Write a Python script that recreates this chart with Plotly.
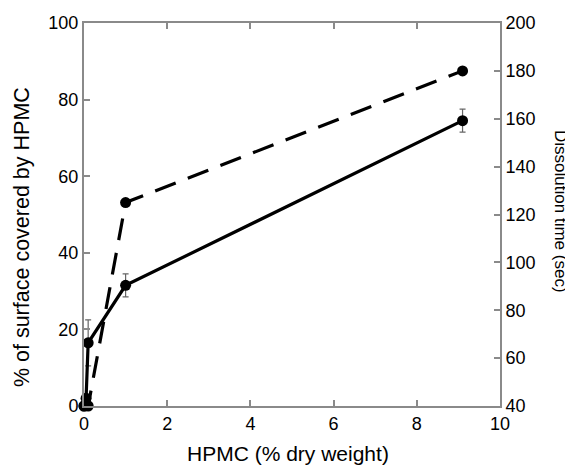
import plotly.graph_objects as go

# Data
hpmc = [0, 0.05, 0.1, 1.0, 9.1]
surface_cov = [0, 2, 16.5, 31.5, 74.5]
surface_err = [0, 0, 6, 3, 3]
dissolution = [40, 41, 40, 125, 180]

left_ticks = [0, 20, 40, 60, 80, 100]
right_ticks = [40, 60, 80, 100, 120, 140, 160, 180, 200]
x_ticks = [0, 2, 4, 6, 8, 10]

FONT = "Liberation Sans, Arial, Helvetica, sans-serif"
AX = "#8a8a8a"

fig = go.Figure()
fig.add_trace(go.Scatter(
    x=hpmc, y=dissolution, yaxis="y2", mode="lines+markers",
    line=dict(color="black", width=3.2, dash="22px,13px"),
    marker=dict(color="black", size=11),
    showlegend=False, cliponaxis=False))
fig.add_trace(go.Scatter(
    x=hpmc, y=surface_cov, mode="lines+markers",
    line=dict(color="black", width=3.2),
    marker=dict(color="black", size=11),
    error_y=dict(type="data", array=surface_err, color="#666666",
                 thickness=1.2, width=3),
    showlegend=False, cliponaxis=False))

common = dict(ticks="inside", ticklen=6, tickcolor=AX, tickwidth=1.5,
              showline=True, linecolor=AX, linewidth=2, showgrid=False,
              zeroline=False, automargin=False,
              tickfont=dict(size=18, family=FONT, color="black"))

fig.update_layout(
    width=565, height=458,
    margin=dict(l=76, r=73, t=15, b=60),
    paper_bgcolor="white", plot_bgcolor="white",
    font=dict(family=FONT, size=16, color="black"),
    xaxis=dict(range=[0, 10], tickvals=x_ticks, mirror="ticks", **common),
    yaxis=dict(range=[0, 100], tickvals=left_ticks, **common),
    yaxis2=dict(range=[40, 200], tickvals=right_ticks, overlaying="y",
                side="right", **common),
    annotations=[
        dict(text="HPMC (% dry weight)", xref="paper", yref="paper",
             x=0.49, y=0, yshift=-47, xanchor="center", yanchor="middle",
             showarrow=False, font=dict(size=21, family=FONT)),
        dict(text="% of surface covered by HPMC", textangle=-90,
             xref="paper", yref="paper", x=0, y=0.441, xshift=-62,
             xanchor="center", yanchor="middle",
             showarrow=False, font=dict(size=21.5, family=FONT)),
        dict(text="Dissolution time (sec)", textangle=90,
             xref="paper", yref="paper", x=1.0, y=0.509, xshift=61,
             xanchor="center", yanchor="middle",
             showarrow=False, font=dict(size=17, family=FONT)),
    ],
)

fig.write_html("out.html")
